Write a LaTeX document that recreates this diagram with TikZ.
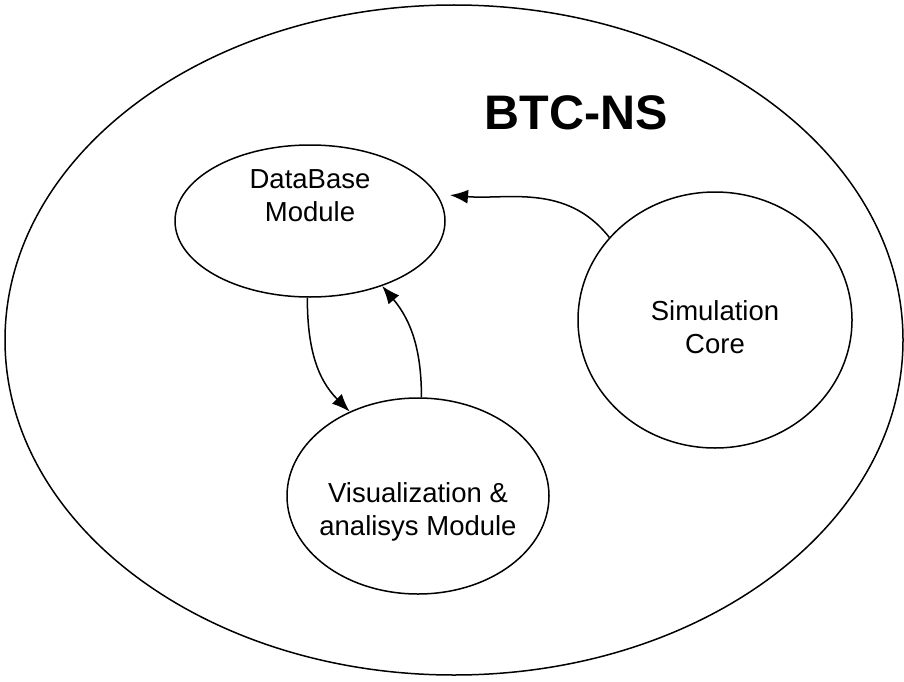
\documentclass[tikz,border=0pt]{standalone}
\usepackage{fontspec}
\setmainfont{Liberation Sans}
\usetikzlibrary{shapes.geometric,arrows.meta}

\begin{document}
\begin{tikzpicture}[x=1pt,y=1pt,
  module/.style={draw, ellipse, line width=1.5pt, inner sep=0pt},
  modtext/.style={align=center, font=\fontsize{27.5}{33}\selectfont},
  flow/.style={line width=1.5pt, -{Latex[length=18pt,width=14pt]}}]
\useasboundingbox (0,0) rectangle (904,-682);
% Outer system
\node[module, minimum width=898, minimum height=670] (btcns) at (454,-340) {};
\node[font=\fontsize{48.5}{48}\selectfont\bfseries] (title) at (576,-113) {BTC-NS};
% Modules
\node[module, minimum width=270, minimum height=152] (db) at (310,-221) {};
\node[modtext] (dbtext) at (310,-196) {DataBase\\Module};
\node[module, minimum width=274, minimum height=256] (sim) at (715,-320) {};
\node[modtext] (simtext) at (715,-327) {Simulation\\Core};
\node[module, minimum width=262, minimum height=196] (vis) at (418,-496) {};
\node[modtext] (vistext) at (418,-512) {Visualization \&\\analisys Module};
% Data flow
\draw[flow, shorten >=13pt] (sim.142) to[out=128, in=-5] (db.12);
\draw[flow] (db.268) to[out=270, in=135] (vis.129);
\draw[flow] (vis.88) to[out=90, in=-50] (db.-42);
\end{tikzpicture}
\end{document}
